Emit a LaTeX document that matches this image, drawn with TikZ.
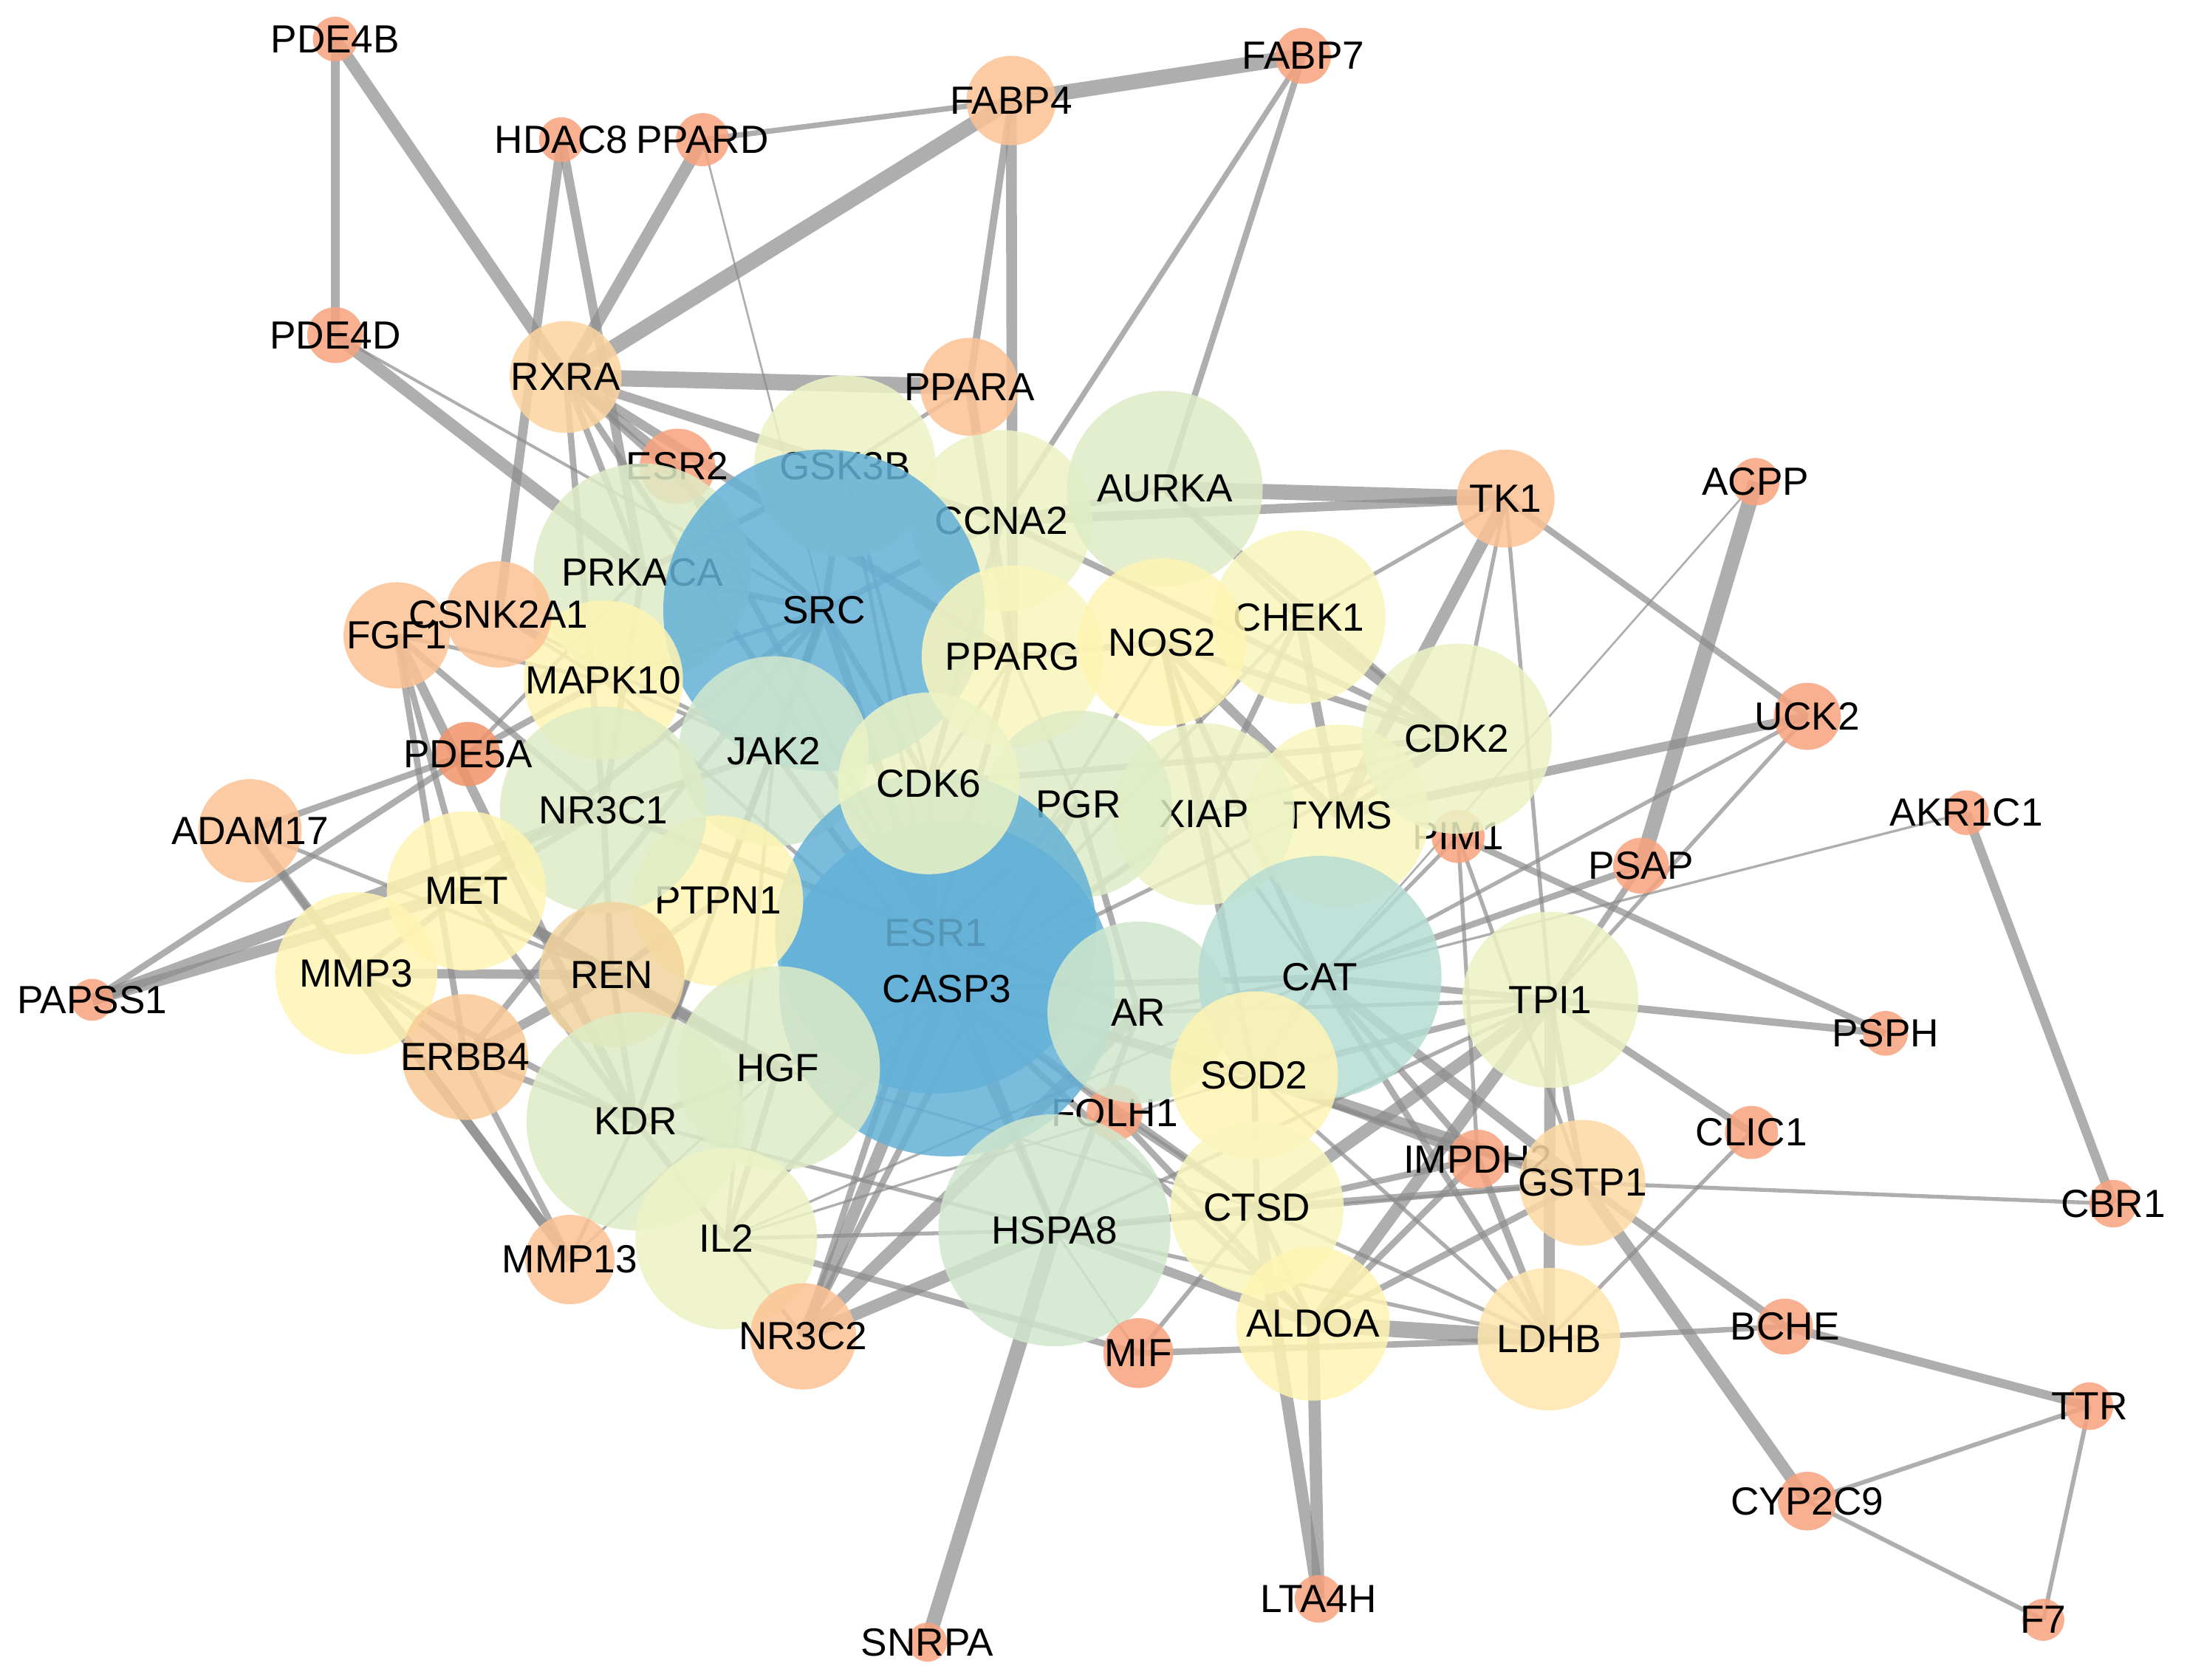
\documentclass[tikz,border=0pt]{standalone}
\usepackage{fontspec}
\setmainfont{Liberation Sans}
\pgfdeclarelayer{back}
\pgfdeclarelayer{edges}
\pgfsetlayers{back,edges,main}
\definecolor{cOr}{HTML}{F8A37E}
\definecolor{cOr2}{HTML}{F29369}
\definecolor{cOm}{HTML}{FDC294}
\definecolor{cOl}{HTML}{FCD49E}
\definecolor{cOb}{HTML}{FACA96}
\definecolor{cOg}{HTML}{FDD9A3}
\definecolor{cLD}{HTML}{FFE6AC}
\definecolor{cRE}{HTML}{F2D49E}
\definecolor{cY}{HTML}{FFF4B3}
\definecolor{cY2}{HTML}{FAF6BD}
\definecolor{cYG}{HTML}{EDF3C4}
\definecolor{cLG}{HTML}{DEECC6}
\definecolor{cGG}{HTML}{D1E7CC}
\definecolor{cCA}{HTML}{B6DDD3}
\definecolor{cBL}{HTML}{64B1D8}
\tikzset{
  gene/.style={circle, inner sep=0pt, outer sep=0pt, draw=none, fill opacity=0.85, minimum size=#1*0.02cm},
  glabel/.style={inner sep=0pt, font=\fontsize{8}{9.6}\selectfont, text=black},
  edge/.style={draw=black!45, draw opacity=0.7, line cap=butt}
}
\newcommand\netedge[3]{\draw[edge,line width=#3pt] (#1.center) -- (#2.center);}
\newcommand\gnode[5]{\node[gene=#4, fill=#5] (#1) at (#2,#3) {}; \node[glabel] (#1-t) at (#1) {#1};}
\begin{document}
\begin{tikzpicture}[x=0.01cm,y=-0.01cm]
\begin{pgfonlayer}{back}
\fill[white] (0,0) rectangle (1568,1203);
\end{pgfonlayer}
\useasboundingbox (0,0) rectangle (1568,1203);
% ---- small peripheral nodes
\gnode{PDE4B}{240}{28}{16}{cOr}
\gnode{HDAC8}{402}{100}{16}{cOr}
\gnode{PPARD}{503}{100}{19}{cOr}
\gnode{FABP7}{933}{40}{20}{cOr}
\gnode{FABP4}{724}{72}{32}{cOm}
\gnode{PDE4D}{240}{240}{20}{cOr}
\gnode{ACPP}{1257}{345}{17}{cOr}
\gnode{UCK2}{1294}{513}{24}{cOr}
\gnode{AKR1C1}{1408}{582}{16}{cOr}
\gnode{PSAP}{1175}{620}{20}{cOr}
\gnode{PAPSS1}{66}{716}{15}{cOr}
\gnode{PSPH}{1350}{740}{16}{cOr}
\gnode{CLIC1}{1254}{811}{19}{cOr}
\gnode{CBR1}{1513}{862}{17}{cOr}
\gnode{BCHE}{1278}{950}{20}{cOr}
\gnode{TTR}{1496}{1007}{17}{cOr}
\gnode{CYP2C9}{1294}{1075}{21}{cOr}
\gnode{F7}{1463}{1160}{15}{cOr}
\gnode{LTA4H}{944}{1145}{17}{cOr}
\gnode{SNRPA}{664}{1176}{14}{cOr}
\gnode{IMPDH2}{1058}{830}{21}{cOr}
\gnode{PIM1}{1044}{599}{19}{cOr}
\gnode{FOLH1}{798}{797}{20}{cOr}
\gnode{ESR2}{485}{334}{27}{cOr}
% ---- larger nodes
\gnode{RXRA}{405}{270}{40}{cOl}
\gnode{GSK3B}{605}{334}{65}{cYG}
\gnode{CCNA2}{717}{373}{65}{cYG}
\gnode{PPARA}{694}{277}{35}{cOm}
\gnode{AURKA}{834}{350}{70}{cLG}
\gnode{PRKACA}{460}{410}{78}{cLG}
\gnode{SRC}{590}{437}{115}{cBL}
\gnode{TK1}{1078}{357}{35}{cOm}
\gnode{TYMS}{958}{584}{65}{cY2}
\gnode{XIAP}{862}{583}{65}{cYG}
\gnode{CHEK1}{930}{442}{62}{cY2}
\gnode{PPARG}{725}{470}{65}{cY2}
\gnode{NOS2}{832}{460}{60}{cY}
\gnode{PGR}{772}{576}{67}{cLG}
\gnode{CDK2}{1043}{529}{68}{cYG}
\gnode{JAK2}{554}{538}{68}{cGG}
\gnode{ESR1}{670}{668}{115}{cBL}
\gnode{CASP3}{678}{708}{120}{cBL}
\gnode{CDK6}{665}{561}{65}{cYG}
\gnode{MAPK10}{432}{487}{57}{cY}
\gnode{PTPN1}{514}{645}{61}{cY}
\gnode{NR3C1}{432}{580}{74}{cLG}
\gnode{PDE5A}{335}{540}{23}{cOr2}
\gnode{FGF1}{284}{455}{38}{cOm}
\gnode{CSNK2A1}{357}{440}{38}{cOm}
\gnode{MET}{334}{638}{57}{cY}
\gnode{ADAM17}{179}{595}{37}{cOm}
\gnode{MMP3}{255}{697}{58}{cY}
\gnode{REN}{438}{698}{52}{cRE}
\gnode{ERBB4}{333}{757}{45}{cOb}
\gnode{KDR}{455}{803}{78}{cLG}
\gnode{HGF}{557}{765}{73}{cLG}
\gnode{IL2}{520}{887}{65}{cYG}
\gnode{NR3C2}{575}{957}{38}{cOm}
\gnode{MMP13}{408}{902}{32}{cOm}
\gnode{AR}{815}{725}{65}{cGG}
\gnode{CAT}{945}{700}{87}{cCA}
\gnode{SOD2}{898}{770}{60}{cY}
\gnode{HSPA8}{755}{881}{83}{cGG}
\gnode{CTSD}{900}{865}{62}{cY2}
\gnode{ALDOA}{940}{948}{55}{cY}
\gnode{MIF}{815}{969}{25}{cOr}
\gnode{TPI1}{1110}{716}{63}{cYG}
\gnode{GSTP1}{1133}{847}{45}{cOg}
\gnode{LDHB}{1109}{959}{51}{cLD}
% ---- edges
\begin{pgfonlayer}{edges}
\netedge{PDE4B}{PDE4D}{1.9}
\netedge{PDE4B}{RXRA}{2.5}
\netedge{HDAC8}{CSNK2A1}{1.9}
\netedge{HDAC8}{PRKACA}{1.9}
\netedge{PPARD}{RXRA}{2.5}
\netedge{PPARD}{FABP4}{1.1}
\netedge{PPARD}{SRC}{0.4}
\netedge{FABP4}{RXRA}{3.1}
\netedge{FABP4}{FABP7}{3.1}
\netedge{FABP4}{PPARA}{1.5}
\netedge{FABP4}{PPARG}{2.2}
\netedge{FABP7}{AURKA}{1.3}
\netedge{FABP7}{CCNA2}{1.1}
\netedge{PDE4D}{PRKACA}{2.5}
\netedge{PDE4D}{SRC}{0.6}
\netedge{RXRA}{PPARA}{3.3}
\netedge{RXRA}{ESR2}{1.9}
\netedge{RXRA}{GSK3B}{1.9}
\netedge{RXRA}{PPARG}{1.9}
\netedge{RXRA}{SRC}{1.3}
\netedge{RXRA}{ESR1}{1.3}
\netedge{RXRA}{PRKACA}{1.3}
\netedge{RXRA}{NR3C1}{1.3}
\netedge{PPARA}{PPARG}{1.9}
\netedge{PPARA}{GSK3B}{0.8}
\netedge{AURKA}{TK1}{3.1}
\netedge{CCNA2}{TK1}{1.9}
\netedge{CCNA2}{AURKA}{1.3}
\netedge{AURKA}{CHEK1}{1.3}
\netedge{AURKA}{CDK2}{1.3}
\netedge{TK1}{TYMS}{2.5}
\netedge{TK1}{CDK2}{0.8}
\netedge{TK1}{TPI1}{0.8}
\netedge{TK1}{UCK2}{1.3}
\netedge{TK1}{CHEK1}{0.8}
\netedge{CHEK1}{CDK2}{2.5}
\netedge{CHEK1}{TYMS}{1.9}
\netedge{CHEK1}{XIAP}{1.3}
\netedge{NOS2}{TYMS}{1.9}
\netedge{NOS2}{XIAP}{1.3}
\netedge{NOS2}{CDK2}{1.3}
\netedge{PPARG}{NOS2}{1.3}
\netedge{CCNA2}{CDK2}{1.3}
\netedge{CCNA2}{CDK6}{1.3}
\netedge{CDK2}{CDK6}{1.3}
\netedge{CDK2}{TYMS}{1.3}
\netedge{CDK2}{XIAP}{0.8}
\netedge{ACPP}{PSAP}{3.1}
\netedge{ACPP}{CAT}{0.4}
\netedge{UCK2}{TYMS}{1.9}
\netedge{UCK2}{CAT}{0.8}
\netedge{UCK2}{TPI1}{0.8}
\netedge{AKR1C1}{CAT}{0.5}
\netedge{AKR1C1}{CBR1}{1.9}
\netedge{PSAP}{CAT}{1.3}
\netedge{PSAP}{TPI1}{1.3}
\netedge{PIM1}{PSPH}{1.3}
\netedge{PIM1}{IMPDH2}{0.8}
\netedge{PIM1}{CAT}{0.8}
\netedge{PIM1}{GSTP1}{0.8}
\netedge{TPI1}{PSPH}{1.5}
\netedge{TPI1}{CLIC1}{1.5}
\netedge{TPI1}{LDHB}{2.3}
\netedge{TPI1}{GSTP1}{1.3}
\netedge{CBR1}{GSTP1}{0.8}
\netedge{GSTP1}{BCHE}{1.5}
\netedge{GSTP1}{CYP2C9}{2.4}
\netedge{CLIC1}{LDHB}{0.8}
\netedge{LDHB}{BCHE}{1.1}
\netedge{BCHE}{TTR}{1.8}
\netedge{TTR}{CYP2C9}{0.9}
\netedge{TTR}{F7}{0.9}
\netedge{CYP2C9}{F7}{0.9}
\netedge{IMPDH2}{LDHB}{1.5}
\netedge{ALDOA}{LDHB}{3.3}
\netedge{CTSD}{LTA4H}{2.5}
\netedge{ALDOA}{LTA4H}{2.5}
\netedge{MIF}{LDHB}{1.3}
\netedge{MIF}{CTSD}{0.9}
\netedge{MIF}{HSPA8}{0.5}
\netedge{HSPA8}{SNRPA}{3.0}
\netedge{CTSD}{TPI1}{2.5}
\netedge{ALDOA}{TPI1}{2.5}
\netedge{SOD2}{GSTP1}{2.5}
\netedge{CAT}{GSTP1}{1.9}
\netedge{CAT}{IMPDH2}{1.3}
\netedge{SOD2}{IMPDH2}{1.3}
\netedge{CTSD}{GSTP1}{1.3}
\netedge{CAT}{LDHB}{1.3}
\netedge{SOD2}{LDHB}{0.8}
\netedge{CTSD}{LDHB}{0.8}
\netedge{CTSD}{IMPDH2}{1.3}
\netedge{SOD2}{TPI1}{1.3}
\netedge{CAT}{TPI1}{1.3}
\netedge{HSPA8}{TPI1}{0.8}
\netedge{AR}{TPI1}{0.8}
\netedge{HSPA8}{ALDOA}{1.9}
\netedge{HSPA8}{CTSD}{1.3}
\netedge{HSPA8}{LDHB}{0.8}
\netedge{CASP3}{ALDOA}{1.3}
\netedge{CASP3}{CTSD}{1.3}
\netedge{FOLH1}{CTSD}{1.3}
\netedge{FOLH1}{ALDOA}{1.3}
\netedge{CASP3}{GSTP1}{0.8}
\netedge{HSPA8}{GSTP1}{0.8}
\netedge{ALDOA}{GSTP1}{1.3}
\netedge{ALDOA}{IMPDH2}{1.3}
\netedge{PAPSS1}{PDE5A}{1.3}
\netedge{PAPSS1}{NR3C1}{2.4}
\netedge{PAPSS1}{MET}{2.4}
\netedge{ADAM17}{PDE5A}{1.3}
\netedge{ADAM17}{REN}{0.8}
\netedge{ADAM17}{MMP13}{1.9}
\netedge{MMP3}{MMP13}{1.9}
\netedge{ADAM17}{MMP3}{1.3}
\netedge{FGF1}{MET}{1.3}
\netedge{FGF1}{ERBB4}{1.3}
\netedge{FGF1}{KDR}{1.9}
\netedge{FGF1}{NR3C1}{1.3}
\netedge{FGF1}{MAPK10}{0.8}
\netedge{PDE5A}{MAPK10}{1.3}
\netedge{PDE5A}{PRKACA}{0.8}
\netedge{CSNK2A1}{JAK2}{0.8}
\netedge{CSNK2A1}{MAPK10}{0.8}
\netedge{MMP3}{REN}{1.9}
\netedge{MET}{REN}{2.5}
\netedge{ERBB4}{REN}{1.9}
\netedge{MMP3}{MET}{1.3}
\netedge{MMP3}{ERBB4}{1.3}
\netedge{MMP3}{KDR}{1.3}
\netedge{ERBB4}{KDR}{1.3}
\netedge{REN}{HGF}{2.8}
\netedge{REN}{NR3C1}{1.3}
\netedge{REN}{PTPN1}{1.3}
\netedge{REN}{KDR}{1.3}
\netedge{MMP13}{KDR}{0.8}
\netedge{MMP13}{HGF}{0.5}
\netedge{MMP13}{ERBB4}{1.3}
\netedge{MET}{HGF}{1.9}
\netedge{MET}{KDR}{1.3}
\netedge{MET}{NR3C1}{1.3}
\netedge{HGF}{KDR}{1.3}
\netedge{HGF}{IL2}{1.3}
\netedge{KDR}{IL2}{1.3}
\netedge{KDR}{PTPN1}{0.8}
\netedge{NR3C2}{CASP3}{2.5}
\netedge{NR3C2}{AR}{2.5}
\netedge{NR3C2}{HSPA8}{2.5}
\netedge{NR3C2}{PGR}{1.3}
\netedge{NR3C2}{IL2}{0.8}
\netedge{IL2}{MIF}{1.3}
\netedge{IL2}{SOD2}{0.5}
\netedge{IL2}{CAT}{0.5}
\netedge{IL2}{HSPA8}{0.8}
\netedge{KDR}{HSPA8}{0.8}
\netedge{HGF}{CTSD}{0.5}
\netedge{ESR1}{SRC}{1.9}
\netedge{ESR1}{AR}{1.9}
\netedge{ESR1}{PGR}{1.9}
\netedge{ESR1}{NR3C1}{1.3}
\netedge{ESR1}{ESR2}{1.3}
\netedge{ESR1}{PPARG}{1.3}
\netedge{ESR1}{CDK6}{1.3}
\netedge{ESR1}{HSPA8}{1.3}
\netedge{ESR1}{NR3C2}{1.3}
\netedge{SRC}{JAK2}{1.9}
\netedge{SRC}{GSK3B}{1.3}
\netedge{SRC}{PRKACA}{1.3}
\netedge{SRC}{PTPN1}{1.3}
\netedge{SRC}{MET}{1.3}
\netedge{SRC}{KDR}{1.3}
\netedge{SRC}{ERBB4}{1.3}
\netedge{SRC}{CDK6}{1.3}
\netedge{SRC}{CCNA2}{1.3}
\netedge{SRC}{MAPK10}{0.8}
\netedge{CASP3}{XIAP}{1.3}
\netedge{CASP3}{GSK3B}{0.8}
\netedge{CASP3}{HGF}{1.3}
\netedge{CASP3}{CAT}{1.3}
\netedge{CASP3}{SOD2}{1.3}
\netedge{CASP3}{HSPA8}{1.3}
\netedge{CASP3}{IL2}{1.3}
\netedge{CASP3}{CDK2}{0.8}
\netedge{CASP3}{CHEK1}{0.8}
\netedge{CASP3}{NOS2}{0.8}
\netedge{CASP3}{JAK2}{1.3}
\netedge{CASP3}{MAPK10}{0.8}
\netedge{CASP3}{FOLH1}{0.8}
\netedge{PGR}{AR}{1.3}
\netedge{AR}{HSPA8}{1.3}
\netedge{AR}{CAT}{0.8}
\netedge{NOS2}{CAT}{1.3}
\netedge{NOS2}{SOD2}{1.3}
\netedge{XIAP}{CAT}{0.8}
\netedge{XIAP}{SOD2}{0.8}
\netedge{JAK2}{IL2}{0.8}
\netedge{JAK2}{PTPN1}{0.8}
\netedge{JAK2}{NR3C1}{1.3}
\netedge{JAK2}{MAPK10}{0.8}
\netedge{PRKACA}{NR3C1}{1.3}
\netedge{PRKACA}{GSK3B}{1.3}
\netedge{PPARG}{PGR}{0.8}
\netedge{PPARG}{CDK6}{0.8}
\netedge{GSK3B}{CCNA2}{1.3}
\netedge{GSK3B}{CDK6}{0.8}
\netedge{CAT}{SOD2}{1.3}
\netedge{SOD2}{CTSD}{1.3}
\netedge{CTSD}{ALDOA}{1.3}
\end{pgfonlayer}
\end{tikzpicture}
\end{document}
